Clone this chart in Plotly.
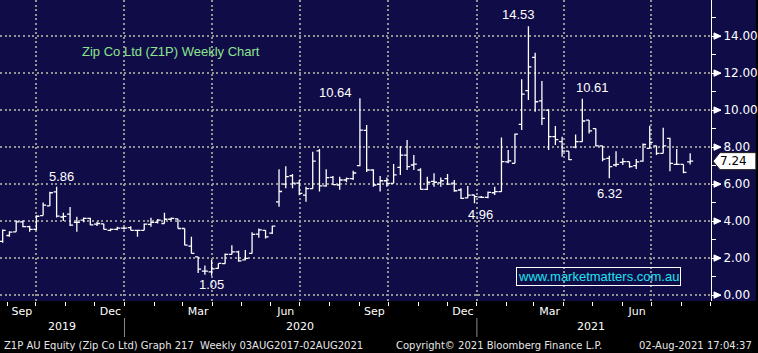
import plotly.graph_objects as go
import pandas as pd

# ---------------- data ----------------
bar_dates = pd.date_range("2019-08-27 12:00", periods=103, freq="7D")

opens = [2.90, 3.22, 3.42, 3.96, 3.70, 3.55, 4.30, 4.82, 5.58, 4.22,
         4.38, 3.93, 4.05, 4.15, 3.83, 3.85, 3.50, 3.55, 3.62, 3.65,
         3.50, 3.50, 3.82, 3.93, 3.87, 4.10, 4.12, 3.60, 2.65, 2.07,
         1.30, 1.25, 1.44, 1.70, 2.20, 2.34, 1.90, 2.25, 3.30, 3.50,
         3.35, 5.04, 6.00, 6.45, 6.05, 5.40, 5.75, 7.80, 5.90, 6.36,
         5.95, 6.22, 6.30, 7.00, 8.90, 6.76, 5.98, 6.18, 6.04, 6.90,
         7.57, 7.03, 6.76, 5.71, 6.15, 6.07, 6.30, 6.05, 5.68, 5.25,
         5.41, 5.30, 5.28, 5.53, 5.59, 7.20, 7.12, 9.23, 11.05, 12.85,
         10.50, 10.00, 8.56, 8.29, 7.78, 8.00, 8.29, 9.46, 9.00, 8.07,
         7.39, 7.03, 7.17, 7.21, 7.00, 7.24, 7.93, 8.07, 7.66, 8.47,
         7.06, 7.06, 7.20]
highs = [3.55, 3.45, 4.05, 4.05, 3.75, 4.32, 5.00, 5.58, 5.86, 4.45,
         4.76, 4.23, 4.20, 4.18, 3.96, 3.85, 3.60, 3.69, 3.70, 3.72,
         3.50, 3.87, 4.18, 4.11, 4.45, 4.20, 4.12, 3.60, 3.15, 2.07,
         1.60, 1.90, 1.71, 2.25, 2.70, 2.40, 2.43, 3.40, 3.60, 3.50,
         3.75, 6.80, 6.97, 6.55, 6.22, 5.86, 7.75, 7.90, 6.80, 6.43,
         6.40, 6.36, 6.72, 10.64, 9.20, 6.80, 6.43, 6.36, 7.08, 8.05,
         8.38, 7.57, 6.85, 6.40, 6.58, 6.36, 6.54, 6.22, 5.77, 5.89,
         5.41, 5.35, 5.60, 5.86, 8.52, 7.84, 8.74, 11.66, 14.53, 13.10,
         11.57, 10.04, 9.14, 8.56, 7.78, 8.68, 10.61, 9.46, 9.01, 8.07,
         7.53, 7.78, 7.39, 7.21, 7.35, 8.20, 9.15, 8.07, 9.04, 8.50,
         7.89, 7.06, 7.66]
lows = [2.83, 3.15, 3.42, 3.66, 3.42, 3.50, 4.30, 4.82, 4.20, 4.00,
        3.73, 3.42, 3.93, 3.78, 3.73, 3.55, 3.45, 3.50, 3.55, 3.50,
        3.15, 3.50, 3.69, 3.87, 3.87, 4.05, 3.60, 2.70, 2.25, 1.20,
        1.10, 1.05, 1.42, 1.70, 2.20, 1.80, 1.88, 2.25, 3.10, 3.06,
        3.30, 4.78, 5.77, 5.77, 5.40, 5.05, 5.75, 5.60, 5.85, 5.95,
        5.70, 6.10, 6.22, 6.97, 6.65, 5.86, 5.60, 5.86, 6.04, 6.49,
        6.76, 6.76, 5.71, 5.68, 5.86, 5.86, 5.95, 5.59, 5.19, 5.23,
        4.96, 5.25, 5.23, 5.41, 5.59, 7.12, 7.12, 8.92, 10.54, 9.91,
        9.19, 7.84, 8.11, 7.48, 7.30, 7.93, 8.29, 8.74, 8.05, 7.24,
        6.32, 6.94, 7.03, 6.88, 6.81, 7.21, 7.93, 7.57, 7.66, 6.70,
        7.03, 6.58, 7.06]
closes = [3.50, 3.40, 3.96, 3.70, 3.55, 4.26, 4.86, 5.53, 4.27, 4.25,
          3.78, 3.93, 4.15, 3.80, 3.87, 3.55, 3.55, 3.62, 3.62, 3.50,
          3.50, 3.83, 3.93, 4.05, 4.10, 4.15, 3.60, 2.70, 2.25, 1.40,
          1.30, 1.42, 1.71, 2.20, 2.34, 1.85, 1.98, 3.28, 3.52, 3.15,
          3.73, 5.60, 6.40, 6.05, 5.50, 5.75, 7.24, 5.90, 6.35, 5.97,
          6.22, 6.30, 6.60, 8.92, 6.76, 5.95, 6.18, 6.03, 6.50, 7.57,
          6.94, 7.08, 5.71, 6.10, 6.10, 6.18, 6.00, 5.64, 5.23, 5.40,
          5.32, 5.28, 5.55, 5.59, 7.21, 7.25, 8.70, 10.86, 12.34, 10.45,
          9.55, 8.56, 8.40, 7.78, 7.32, 8.29, 9.41, 8.88, 8.07, 7.35,
          6.94, 7.06, 7.21, 6.94, 7.20, 8.14, 8.25, 7.66, 8.07, 7.12,
          7.06, 6.63, 7.24]

# labelled extremes (bar indices)
high_label_idx = [8, 53, 78, 86]
low_label_idx = [31, 70, 90]

y_tick_vals = [0, 2, 4, 6, 8, 10, 12, 14]
y_minor_vals = [1, 3, 5, 7, 9, 11, 13, 15]

quarter_starts = ["2019-10-01", "2020-01-01", "2020-04-01", "2020-07-01",
                  "2020-10-01", "2021-01-01", "2021-04-01", "2021-07-01"]
quarter_labels = ["Sep", "Dec", "Mar", "Jun", "Sep", "Dec", "Mar", "Jun"]
year_labels = ["2019", "2020", "2021"]
year_label_dates = ["2019-10-28", "2020-07-01", "2021-04-30"]
year_breaks = ["2020-01-01", "2021-01-01"]
last_price = closes[-1]

title_text = "Zip Co Ltd (Z1P) Weekly Chart"
watermark = "www.marketmatters.com.au"
footer_left = "Z1P AU Equity (Zip Co Ltd) Graph 217  Weekly 03AUG2017-02AUG2021"
footer_mid = "Copyright\u00a9 2021 Bloomberg Finance L.P."
footer_right = "02-Aug-2021 17:04:37"

# ---------------- layout constants ----------------
W, H = 758, 353
ML, MR, MT, MB = 0, 45, 0, 52
PW, PH = W - ML - MR, H - MT - MB
NAVY = "#100c48"
GRID = "#929292"
GRID_DASH = "2px,2.6px"
x_range = ["2019-08-24 17:00", "2021-09-01 03:00"]
y_range = [-0.32, 15.95]
px_per_unit = PH / (y_range[1] - y_range[0])


def px2paper_x(px):
    return px / PW


def px2paper_y(py):
    return 1 - py / PH


fig = go.Figure(go.Ohlc(
    x=bar_dates, open=opens, high=highs, low=lows, close=closes,
    increasing=dict(line=dict(color="white", width=1.3)),
    decreasing=dict(line=dict(color="white", width=1.3)),
    tickwidth=0.45, hoverinfo="skip", showlegend=False))

shapes = []
shapes.append(dict(type="rect", xref="paper", yref="paper", x0=1, x1=W / PW,
                   y0=0, y1=1, fillcolor=NAVY, line=dict(width=0), layer="below"))
tri_h = 3.2 / px_per_unit
for v in y_tick_vals:
    shapes.append(dict(type="path", xref="paper", yref="y",
                       path=f"M {px2paper_x(716)},{v + tri_h} L {px2paper_x(723)},{v} "
                            f"L {px2paper_x(716)},{v - tri_h} Z",
                       fillcolor="white", line=dict(color="white", width=1)))
for d in year_breaks:
    shapes.append(dict(type="line", xref="x", yref="paper", x0=d, x1=d,
                       y0=-17 / PH, y1=-36 / PH, line=dict(color="#8a8a8a", width=1)))
fh = 8.5 / px_per_unit
shapes.append(dict(type="path", xref="paper", yref="y",
                   path=f"M {px2paper_x(715)},{last_price} L {px2paper_x(722)},{last_price + fh} "
                        f"L {W / PW},{last_price + fh} L {W / PW},{last_price - fh} "
                        f"L {px2paper_x(722)},{last_price - fh} Z",
                   fillcolor="white", line=dict(color="#202020", width=1)))

annotations = []
lab_font = dict(family="Liberation Sans, Arial", size=13, color="white")
high_shifts = {8: (5, 10.5), 53: (-24, 6), 78: (-10, 12), 86: (10, 11.5)}
low_shifts = {31: (0, -8.5), 70: (6, -11), 90: (0, -15)}
for i in high_label_idx:
    dx, dy = high_shifts[i]
    annotations.append(dict(x=bar_dates[i], y=highs[i], xref="x", yref="y",
                            text=f"{highs[i]:.2f}", showarrow=False, font=lab_font,
                            xanchor="center", yanchor="middle", xshift=dx, yshift=dy))
for i in low_label_idx:
    dx, dy = low_shifts[i]
    annotations.append(dict(x=bar_dates[i], y=lows[i], xref="x", yref="y",
                            text=f"{lows[i]:.2f}", showarrow=False, font=lab_font,
                            xanchor="center", yanchor="middle", xshift=dx, yshift=dy))

annotations.append(dict(x=px2paper_x(171), y=px2paper_y(51), xref="paper", yref="paper",
                        text=title_text, showarrow=False, xanchor="center", yanchor="middle",
                        font=dict(family="Liberation Sans, Arial", size=13, color="#8ce48c")))
annotations.append(dict(x=px2paper_x(600.5), y=px2paper_y(276.5), xref="paper", yref="paper",
                        text=watermark, showarrow=False, bordercolor="white", borderwidth=1,
                        borderpad=1, xanchor="center", yanchor="middle",
                        font=dict(family="Liberation Sans, Arial", size=13, color="#1de4ee")))
annotations.append(dict(x=px2paper_x(736), y=last_price, xref="paper", yref="y",
                        text=f"{last_price:.2f}", showarrow=False, xanchor="center",
                        yanchor="middle",
                        font=dict(family="DejaVu Sans", size=12, color="black")))
for lab, d in zip(year_labels, year_label_dates):
    annotations.append(dict(x=d, y=px2paper_y(327), xref="x", yref="paper", text=lab,
                            showarrow=False, xanchor="center", yanchor="middle",
                            font=dict(family="DejaVu Sans", size=11, color="white")))
foot_font = dict(family="DejaVu Sans", size=10, color="#e6e6e6")
foot_y = px2paper_y(345)
annotations.append(dict(x=px2paper_x(2), y=foot_y, xref="paper", yref="paper",
                        text=footer_left, showarrow=False, xanchor="left",
                        yanchor="middle", font=foot_font))
annotations.append(dict(x=px2paper_x(500), y=foot_y, xref="paper", yref="paper",
                        text=footer_mid, showarrow=False, xanchor="center",
                        yanchor="middle", font=foot_font))
annotations.append(dict(x=px2paper_x(756), y=foot_y, xref="paper", yref="paper",
                        text=footer_right, showarrow=False, xanchor="right",
                        yanchor="middle", font=foot_font))

fig.update_layout(
    width=W, height=H,
    margin=dict(l=ML, r=MR, t=MT, b=MB, pad=0),
    paper_bgcolor="black", plot_bgcolor=NAVY,
    showlegend=False,
    shapes=shapes, annotations=annotations,
    xaxis=dict(type="date", range=x_range, rangeslider=dict(visible=False),
               tickmode="array", tickvals=quarter_starts, ticktext=quarter_labels,
               ticks="outside", ticklen=4, tickcolor="white", tickwidth=1,
               ticklabelshift=-14, ticklabelstandoff=-4,
               showgrid=True, gridcolor=GRID, gridwidth=2, griddash=GRID_DASH,
               zeroline=False, showline=False,
               tickfont=dict(family="DejaVu Sans", size=11, color="white"),
               minor=dict(tickmode="linear", tick0="2019-09-01", dtick="M1",
                          ticks="outside", ticklen=4, tickcolor="white", showgrid=False)),
    yaxis=dict(side="right", range=y_range, tickmode="array", tickvals=y_tick_vals,
               ticktext=[f"{v:.2f}" for v in y_tick_vals],
               ticks="outside", ticklen=9, tickcolor="white", tickwidth=1,
               showline=True, linecolor="white", linewidth=1,
               showgrid=True, gridcolor=GRID, gridwidth=2, griddash=GRID_DASH,
               zeroline=False,
               tickfont=dict(family="DejaVu Sans", size=12, color="white"),
               minor=dict(tickmode="array", tickvals=y_minor_vals, ticks="outside",
                          ticklen=4, tickcolor="white", showgrid=False)),
)

fig.write_html("out.html")
